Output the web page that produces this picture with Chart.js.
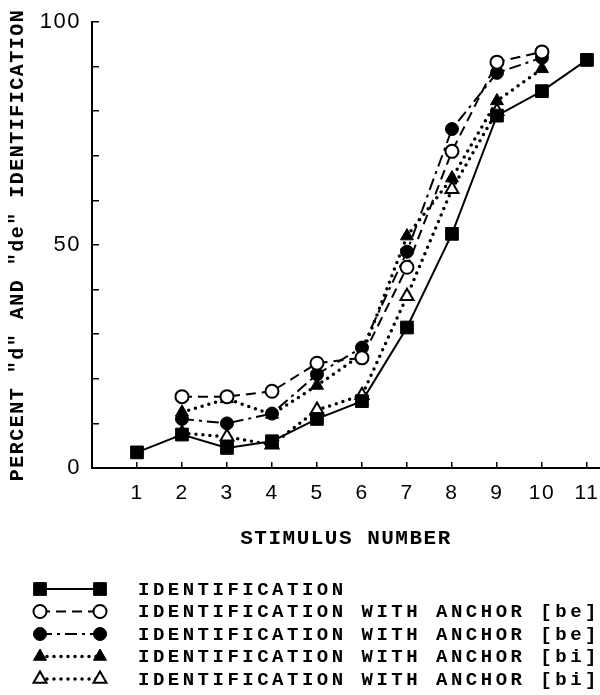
<!DOCTYPE html>
<html>
<head>
<meta charset="utf-8">
<script src="https://cdn.jsdelivr.net/npm/chart.js"></script>
<style>
  body { margin: 0; background: #fff; }
  #wrap { width: 600px; height: 695px; }
</style>
</head>
<body>
<div id="wrap"><canvas id="idChart" width="600" height="695"></canvas></div>

<script>
// Valores
const stimulus = [1, 2, 3, 4, 5, 6, 7, 8, 9, 10, 11];
const identification = [3.5, 7.5, 4.5, 6, 11, 15, 31.5, 52.5, 79, 84.5, 91.5];
const anchorBeOpen   = [null, 16, 16, 17.2, 23.5, 24.7, 45, 71, 91, 93.3, null];
const anchorBeFilled = [null, 11, 10, 12.2, 21, 27, 48.5, 76, 88.6, 92, null];
const anchorBiFilled = [null, 12.5, 15.5, 12, 18.5, 25.5, 52, 65, 82.3, 89.5, null];
const anchorBiOpen   = [null, 7.8, 7, 5.2, 13, 16.3, 38.5, 62.5, 80, null, null];

const yTicks = [0, 10, 20, 30, 40, 50, 60, 70, 80, 90, 100];
const yTickLabels = { 0: '0', 50: '50', 100: '100' };

const legendLabels = [
    'IDENTIFICATION',
    'IDENTIFICATION WITH ANCHOR [be]',
    'IDENTIFICATION WITH ANCHOR [be]',
    'IDENTIFICATION WITH ANCHOR [bi]',
    'IDENTIFICATION WITH ANCHOR [bi]'
];

function toPoints(values) {
    return stimulus
        .map((x, i) => ({ x: x, y: values[i] }))
        .filter(p => p.y !== null);
}

const monoFont = "'Liberation Mono', 'DejaVu Sans Mono', monospace";
const sansFont = "'Liberation Sans', Arial, sans-serif";

// Leyenda dibujada en el canvas (línea + marcador en cada extremo)
const sampleLegend = {
    id: 'sampleLegend',
    afterDraw(chart) {
        const ctx = chart.ctx;
        const top = 589, row = 22.5;
        chart.data.datasets.forEach((ds, i) => {
            const y = top + i * row;
            ctx.save();
            ctx.letterSpacing = '0px';
            ctx.strokeStyle = '#000';
            ctx.lineWidth = ds.borderWidth;
            ctx.lineCap = ds.borderCapStyle || 'butt';
            ctx.setLineDash(ds.borderDash || []);
            ctx.beginPath();
            ctx.moveTo(40, y);
            ctx.lineTo(100, y);
            ctx.stroke();
            ctx.setLineDash([]);
            ctx.lineCap = 'butt';
            ctx.fillStyle = ds.pointBackgroundColor;
            ctx.strokeStyle = ds.pointBorderColor;
            ctx.lineWidth = ds.pointBorderWidth;
            const opts = { pointStyle: ds.pointStyle, radius: ds.pointRadius, rotation: 0, borderWidth: ds.pointBorderWidth };
            Chart.helpers.drawPoint(ctx, opts, 40, y);
            Chart.helpers.drawPoint(ctx, opts, 100, y);
            ctx.letterSpacing = '3.5px';
            ctx.font = 'bold 19px ' + monoFont;
            ctx.fillStyle = '#000';
            ctx.textAlign = 'left';
            ctx.textBaseline = 'middle';
            ctx.fillText(legendLabels[i], 138, y + 1);
            ctx.restore();
        });
    }
};

// Espaciado de letras tipo máquina de escribir para ejes
const typewriterSpacing = {
    id: 'typewriterSpacing',
    beforeDraw(chart) { chart.ctx.letterSpacing = '1.5px'; },
    afterDraw(chart) { chart.ctx.letterSpacing = '0px'; }
};

const datasets = [
    {
        label: legendLabels[0],
        data: toPoints(identification),
        borderColor: '#000',
        borderWidth: 2,
        borderDash: [],
        pointStyle: 'rect',
        pointRadius: 9,
        pointBackgroundColor: '#000',
        pointBorderColor: '#000',
        pointBorderWidth: 1
    },
    {
        label: legendLabels[1],
        data: toPoints(anchorBeOpen),
        borderColor: '#000',
        borderWidth: 2,
        borderDash: [10, 6],
        pointStyle: 'circle',
        pointRadius: 6.5,
        pointBackgroundColor: '#fff',
        pointBorderColor: '#000',
        pointBorderWidth: 2
    },
    {
        label: legendLabels[2],
        data: toPoints(anchorBeFilled),
        borderColor: '#000',
        borderWidth: 2,
        borderDash: [12, 5, 3, 5],
        pointStyle: 'circle',
        pointRadius: 6.5,
        pointBackgroundColor: '#000',
        pointBorderColor: '#000',
        pointBorderWidth: 1
    },
    {
        label: legendLabels[3],
        data: toPoints(anchorBiFilled),
        borderColor: '#000',
        borderWidth: 3.5,
        borderDash: [0, 7],
        borderCapStyle: 'round',
        pointStyle: 'triangle',
        pointRadius: 7.5,
        pointBackgroundColor: '#000',
        pointBorderColor: '#000',
        pointBorderWidth: 1
    },
    {
        label: legendLabels[4],
        data: toPoints(anchorBiOpen),
        borderColor: '#000',
        borderWidth: 3.5,
        borderDash: [0, 7],
        borderCapStyle: 'round',
        pointStyle: 'triangle',
        pointRadius: 7.5,
        pointBackgroundColor: '#fff',
        pointBorderColor: '#000',
        pointBorderWidth: 2
    }
];

new Chart(document.getElementById('idChart'), {
    type: 'line',
    data: { datasets: datasets },
    plugins: [typewriterSpacing, sampleLegend],
    options: {
        responsive: false,
        animation: false,
        devicePixelRatio: 1,
        layout: { autoPadding: false, padding: { top: 22, right: 0, left: 0, bottom: 137 } },
        elements: { line: { tension: 0, fill: false } },
        plugins: {
            legend: { display: false },
            tooltip: { enabled: false }
        },
        scales: {
            x: {
                type: 'linear',
                min: 0,
                max: 11.29,
                afterBuildTicks: s => { s.ticks = stimulus.map(v => ({ value: v })); },
                afterFit: s => { s.height = 90; s.paddingLeft = 0; s.paddingRight = 0; },
                border: { color: '#000', width: 2 },
                grid: { drawOnChartArea: false, tickLength: -6, color: '#000', lineWidth: 1.5 },
                ticks: {
                    color: '#000',
                    padding: 19,
                    maxRotation: 0,
                    autoSkip: false,
                    font: { family: sansFont, size: 21 }
                },
                title: {
                    display: true,
                    text: 'STIMULUS NUMBER',
                    color: '#000',
                    font: { family: monoFont, size: 21, weight: 'bold' },
                    padding: { top: 5, bottom: 7 }
                }
            },
            y: {
                min: 0,
                max: 100,
                afterBuildTicks: s => { s.ticks = yTicks.map(v => ({ value: v })); },
                afterFit: s => { s.width = 92; s.paddingTop = 0; s.paddingBottom = 0; },
                border: { color: '#000', width: 2 },
                grid: { drawOnChartArea: false, tickLength: -7, color: '#000', lineWidth: 1.5 },
                ticks: {
                    color: '#000',
                    padding: 18,
                    autoSkip: false,
                    font: { family: sansFont, size: 22 },
                    callback: v => (yTickLabels[v] !== undefined ? yTickLabels[v] : '')
                },
                title: {
                    display: true,
                    text: 'PERCENT "d" AND "de" IDENTIFICATION',
                    color: '#000',
                    font: { family: monoFont, size: 20, weight: 'bold' },
                    padding: { top: 6, bottom: 0 }
                }
            }
        }
    }
});
</script>
</body>
</html>
